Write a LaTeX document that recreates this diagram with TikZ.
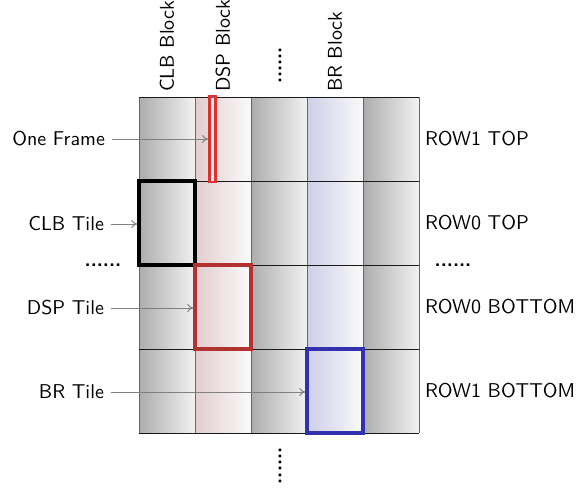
\documentclass[tikz,border=0pt]{standalone}
\usetikzlibrary{arrows.meta}
\definecolor{dspL}{RGB}{226,204,206}
\definecolor{brL}{RGB}{206,206,232}
\definecolor{grL}{RGB}{172,172,172}
\definecolor{grR}{RGB}{242,242,242}
\definecolor{colR}{RGB}{250,250,250}
\definecolor{frameC}{RGB}{220,50,50}
\definecolor{dspC}{RGB}{178,50,50}
\definecolor{brC}{RGB}{50,50,175}
\begin{document}
\begin{tikzpicture}[x=0.5pt,y=-0.5pt,font=\sffamily,
  graycol/.style={left color=grL,right color=grR},
  redcol/.style={left color=dspL,right color=colR},
  bluecol/.style={left color=brL,right color=colR},
  vline/.style={draw=black!60,line width=0.5pt},
  hline/.style={draw=black!90,line width=0.5pt},
  tilebox/.style={draw,minimum width=28pt,minimum height=42pt,inner sep=0pt},
  framebox/.style={draw=frameC,line width=1.4pt,fill=white,fill opacity=0.4,minimum width=3pt,minimum height=43pt,inner sep=0pt},
  lbl/.style={anchor=east},
  rlbl/.style={anchor=west},
  vlbl/.style={rotate=90,anchor=west},
  pointer/.style={draw=gray,line width=0.5pt,-{To[length=3pt,width=4pt]}},
  dots/.style={inner sep=0pt,font=\sffamily\bfseries}
]
\useasboundingbox (0,0) rectangle (580,488);
% columns
\fill[graycol] (139,97) rectangle (195,433);
\fill[redcol] (195,97) rectangle (251,433);
\fill[graycol] (251,97) rectangle (307,433);
\fill[bluecol] (307,97) rectangle (363,433);
\fill[graycol] (363,97) rectangle (419,433);
% grid
\foreach \x in {139,195,251,307,363,419} \draw[vline] (\x,97) -- (\x,433);
\foreach \y in {97,181,265,349,433} \draw[hline] (139,\y) -- (419,\y);
% column labels
\node[vlbl] (clbblk) at (167,99) {CLB Block};
\node[vlbl] (dspblk) at (223,99) {DSP Block};
\node[vlbl,dots] (topdots) at (280,84) {......};
\node[vlbl] (brblk) at (335,99) {BR Block};
% tiles
\node[framebox] (frame) at (212.5,139) {};
\node[tilebox,draw=black,line width=1.7pt] (clb) at (167,223) {};
\node[tilebox,draw=dspC,line width=1.7pt] (dsp) at (223,307) {};
\node[tilebox,draw=brC,line width=1.7pt] (br) at (335,391) {};
% left labels
\node[lbl] (lframe) at (112,139) {One Frame};
\node[lbl] (lclb) at (111,224) {CLB Tile};
\node[lbl] (ldsp) at (111,308) {DSP Tile};
\node[lbl] (lbr) at (111,392) {BR Tile};
\node[dots] (ldots) at (103,265) {......};
\node[dots] (rdots) at (453,265) {......};
% right labels
\node[rlbl] (r1) at (418,139) {ROW1 TOP};
\node[rlbl] (r2) at (418,223) {ROW0 TOP};
\node[rlbl] (r3) at (418,307) {ROW0 BOTTOM};
\node[rlbl] (r4) at (418,391) {ROW1 BOTTOM};
% bottom dots
\node[rotate=90,anchor=east,dots] (botdots) at (280,447) {......};
% pointers
\draw[pointer] (lframe.east) -- (frame.west |- lframe.east);
\draw[pointer] (lclb.east) -- (clb.west |- lclb.east);
\draw[pointer] (ldsp.east) -- (dsp.west |- ldsp.east);
\draw[pointer] (lbr.east) -- (br.west |- lbr.east);
\end{tikzpicture}
\end{document}
